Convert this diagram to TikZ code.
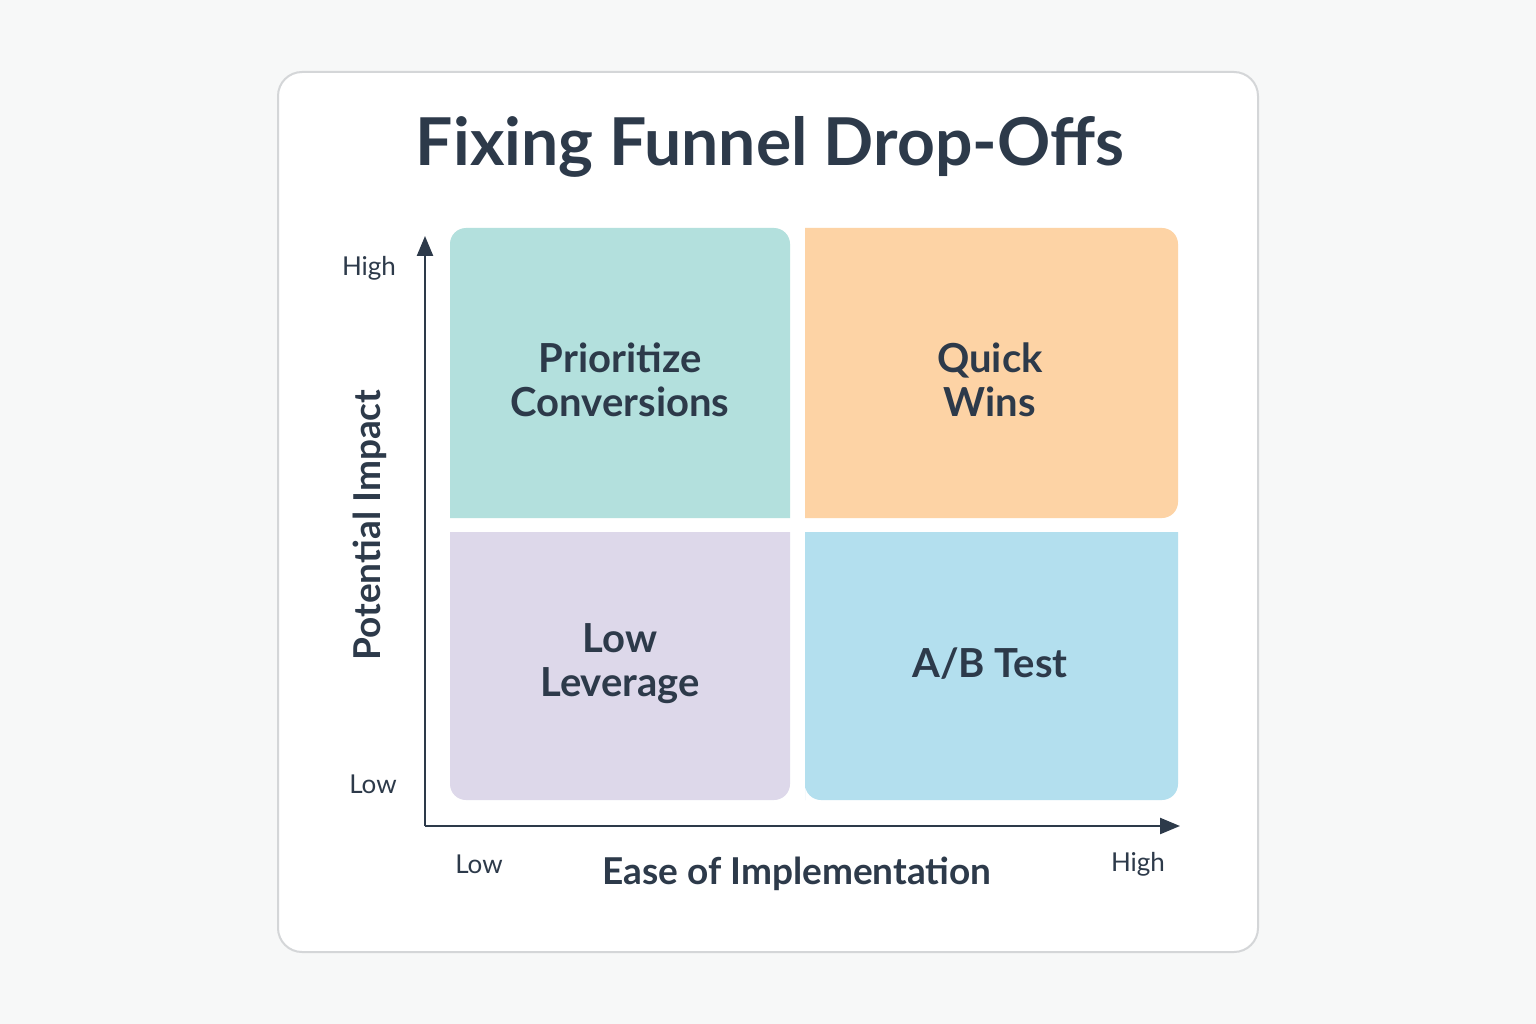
\documentclass[tikz,border=0pt]{standalone}
\usepackage{fontspec}
\setmainfont{Lato}
\usepackage{tikz}
\usetikzlibrary{arrows.meta}
\definecolor{ink}{HTML}{2D3A4A}
\definecolor{cardline}{HTML}{D4D6D8}
\definecolor{pageback}{HTML}{F7F8F8}
\definecolor{teal}{HTML}{B3E0DD}
\definecolor{peach}{HTML}{FDD3A5}
\definecolor{lavender}{HTML}{DDD8EA}
\definecolor{sky}{HTML}{B3DFEE}
\tikzset{
  quadtext/.style={text=ink,font=\fontsize{40}{44}\selectfont\bfseries,align=center},
  ticktext/.style={text=ink,font=\fontsize{26}{30}\selectfont},
  axistext/.style={text=ink,font=\fontsize{37}{40}\selectfont\bfseries}
}
\begin{document}
\begin{tikzpicture}[x=1pt,y=-1pt]

    \fill[pageback] (0,0) rectangle (1536,1024);
    \useasboundingbox (0,0) rectangle (1536,1024);

    \draw[cardline,line width=2pt,fill=white,rounded corners=24pt] (278,72) rectangle (1258,952);

    \node[text=ink,font=\fontsize{66}{70}\selectfont\bfseries] (title) at (770,147) {Fixing Funnel Drop-Offs};

    % quadrants
    \fill[teal] (450,518) [rounded corners=16pt] -- (450,228) -- (790,228) [sharp corners] -- (790,518) -- cycle;
    \fill[peach] (805,518) -- (805,228) [rounded corners=16pt] -- (1178,228) -- (1178,518) [sharp corners] -- cycle;
    \fill[lavender] (790,532) -- (450,532) [rounded corners=16pt] -- (450,800) -- (790,800) [sharp corners] -- cycle;
    \fill[sky] (805,800) -- (805,532) -- (1178,532) [rounded corners=16pt] -- (1178,800) -- (805,800) [sharp corners] -- cycle;

    \node[quadtext] (prio)  at (620,380) {Prioritize\\Conversions};
    \node[quadtext] (quick) at (990,380) {Quick\\Wins};
    \node[quadtext] (lowlev) at (620,664) {Low\\Leverage};
    \node[quadtext] (abtest) at (990,664) {A/B Test};

    % axes
    \coordinate (origin) at (425,826);
    \coordinate (ytop) at (425,236);
    \coordinate (xend) at (1180,826);
    \draw[ink,line width=2.4pt,-{Triangle[length=20pt,width=16pt]}] (origin) -- (ytop);
    \draw[ink,line width=2.4pt,-{Triangle[length=20pt,width=16pt]}] (origin) -- (xend);

    \node[ticktext] (yhigh) at (369,268) {High};
    \node[ticktext] (ylow)  at (373,784) {Low};
    \node[ticktext] (xlow)  at (479,864) {Low};
    \node[ticktext] (xhigh) at (1138,864) {High};

    \node[axistext,rotate=90] (ylabel) at (370,525) {Potential Impact};
    \node[axistext] (xlabel) at (797,874) {Ease of Implementation};

\end{tikzpicture}
\end{document}
